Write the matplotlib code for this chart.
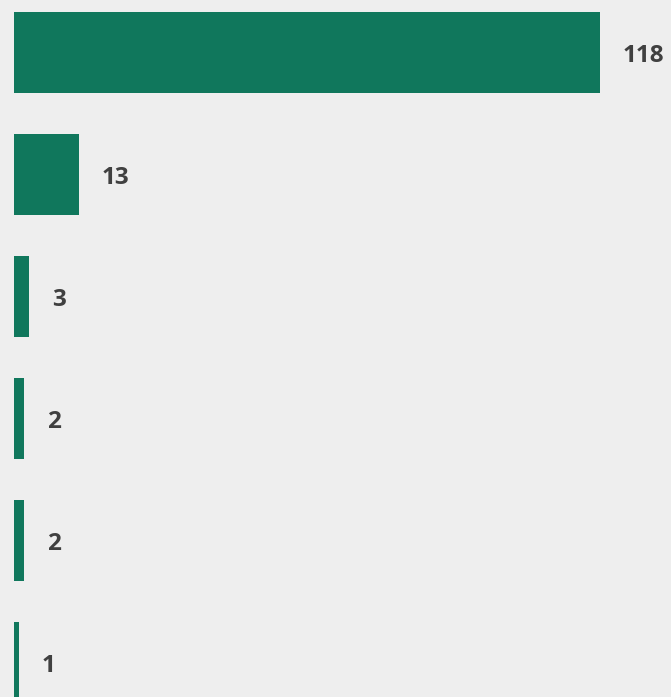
import matplotlib.pyplot as plt

values = [118, 13, 3, 2, 2, 1]
labels = ["118", "13", "3", "2", "2", "1"]

bar_color = "#10775c"
bg = "#eeeeee"

fig = plt.figure(figsize=(6.71, 6.97), dpi=100)
fig.patch.set_facecolor(bg)
ax = fig.add_axes([14 / 671, 0, 657 / 671, 1])
ax.set_facecolor(bg)

ypos = list(range(len(values)))
ax.barh(ypos, values, height=81 / 122, color=bar_color)

for y, v, lab in zip(ypos, values, labels):
    ax.annotate(lab, (v, y), xytext=(16.5, -2), textcoords="offset points",
                va="center", ha="left", fontsize=17.5, fontweight="bold",
                color="#404040", family=["Open Sans", "DejaVu Sans"])

ax.set_xlim(0, 118 * 657 / 586)
ax.set_ylim(5.28, -0.434)
ax.axis("off")

fig.savefig("out.png", dpi=100, facecolor=bg)
